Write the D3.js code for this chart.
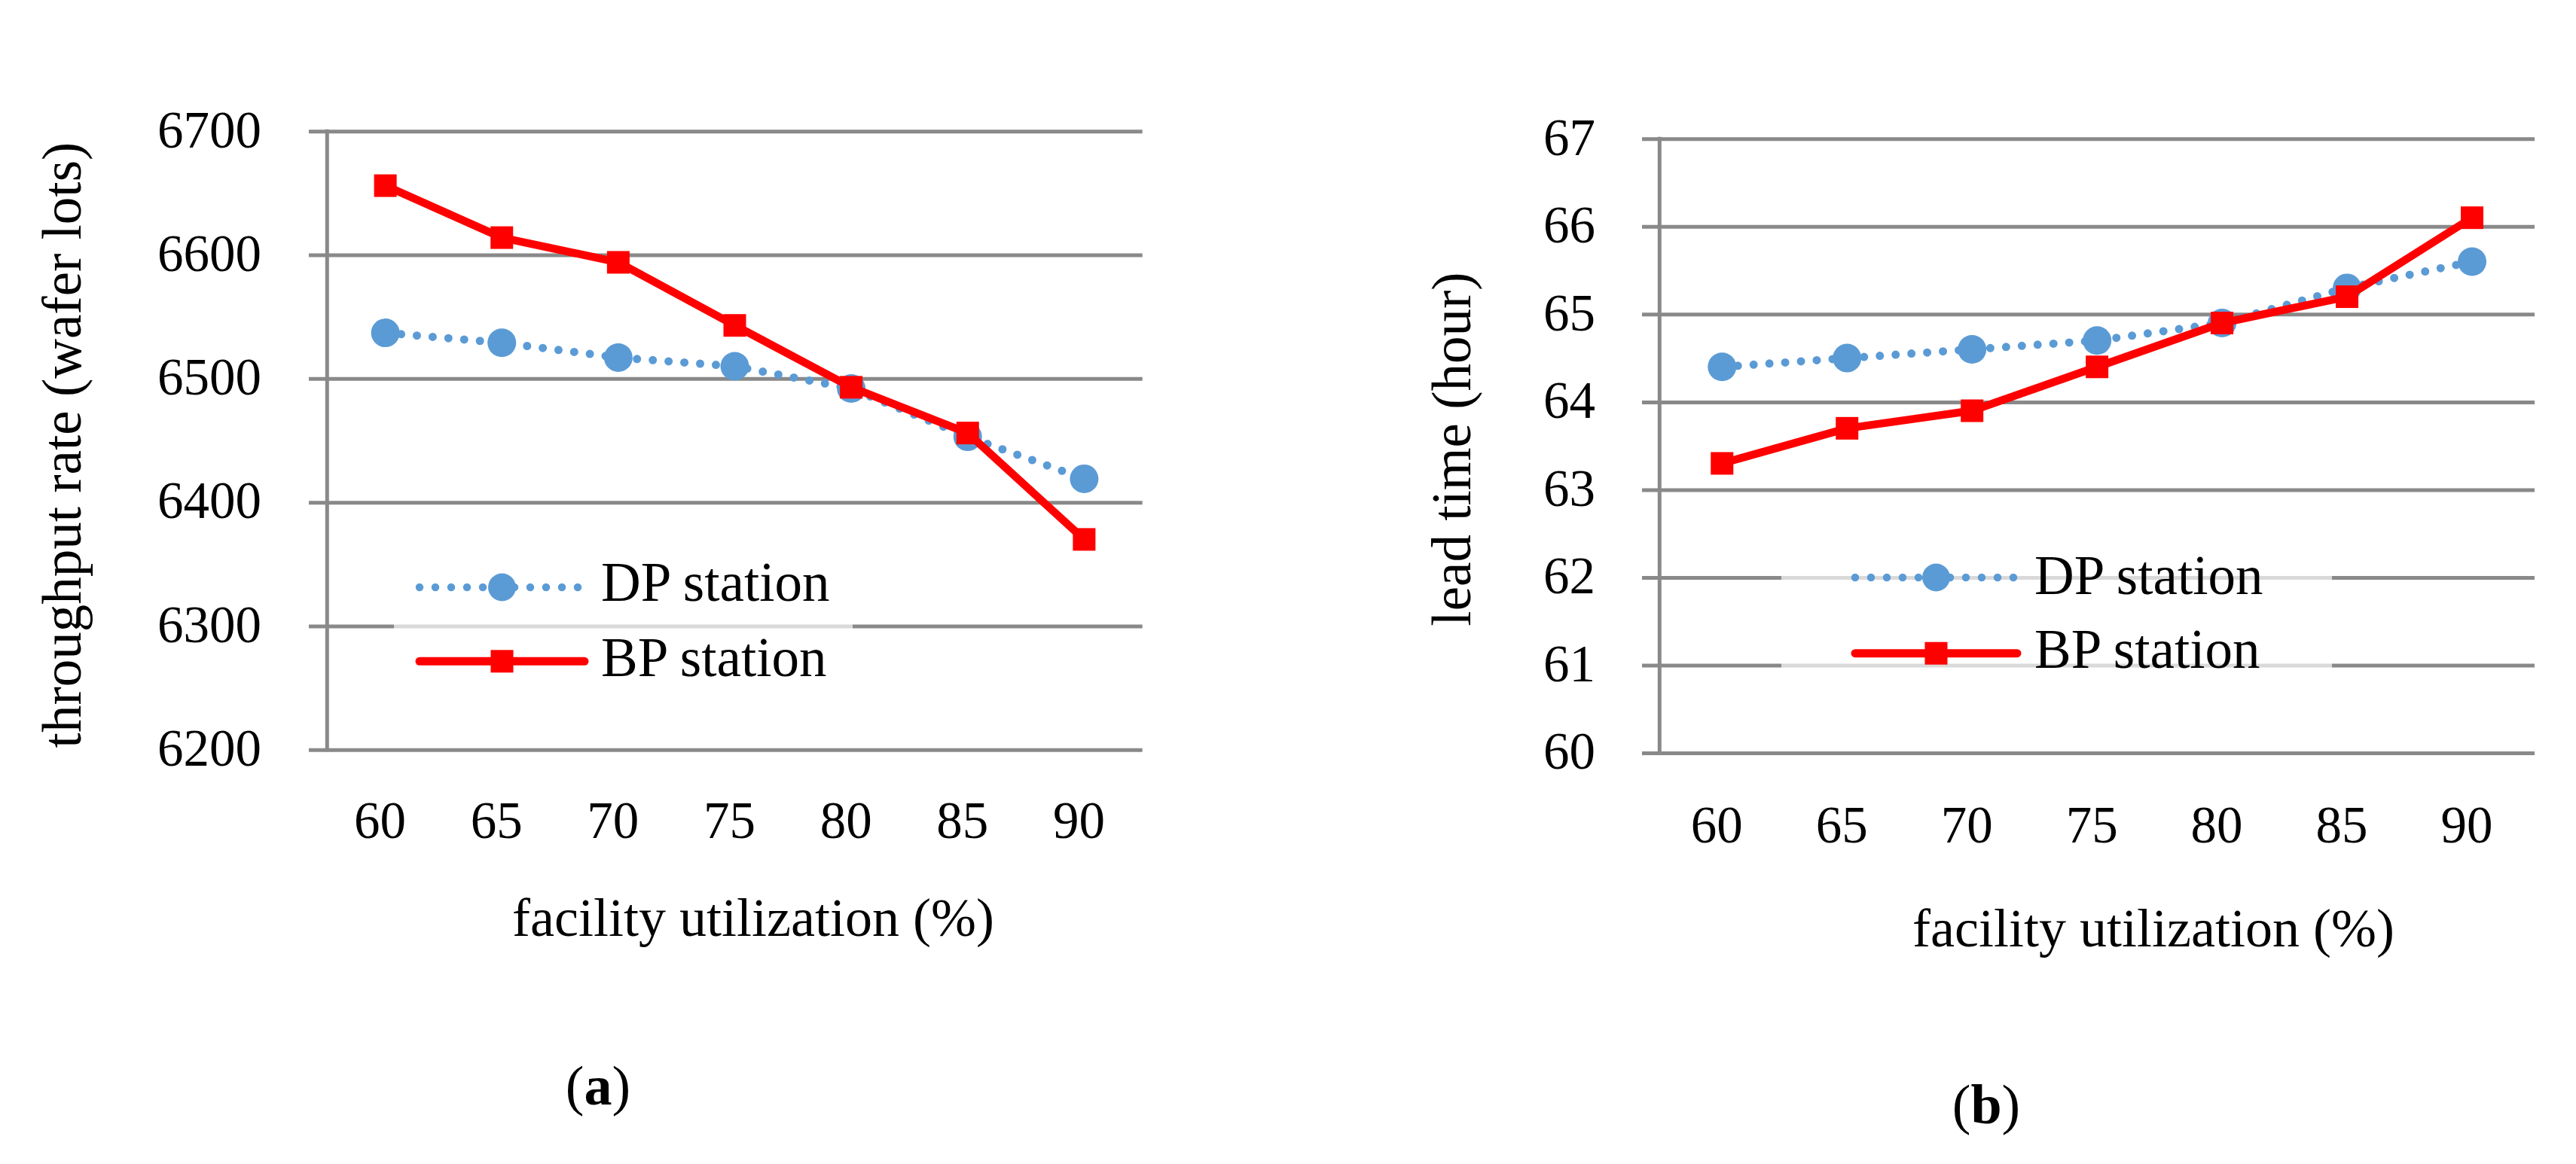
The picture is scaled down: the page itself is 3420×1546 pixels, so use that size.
<!DOCTYPE html>
<html>
<head>
<meta charset="utf-8">
<script src="https://cdn.jsdelivr.net/npm/d3@7/dist/d3.min.js"></script>
<style>
  html, body { margin: 0; padding: 0; background: #ffffff; }
  svg { display: block; }
  text { font-family: "Liberation Serif", "Times New Roman", serif; fill: #000; }
</style>
</head>
<body>
<svg id="chart" width="3420" height="1546"></svg>
<script>
// ---------------- data ----------------
const categories = [60, 65, 70, 75, 80, 85, 90];
const throughputDP = [6537, 6529, 6517, 6510, 6492, 6453, 6419];
const throughputBP = [6656, 6614, 6594, 6543, 6493, 6456, 6370];
const leadDP = [64.4, 64.5, 64.6, 64.7, 64.9, 65.3, 65.6];
const leadBP = [63.3, 63.7, 63.9, 64.4, 64.9, 65.2, 66.1];
const throughputTicks = [6200, 6300, 6400, 6500, 6600, 6700];
const leadTicks = [60, 61, 62, 63, 64, 65, 66, 67];
const seriesNames = ["DP station", "BP station"];
const xTitle = "facility utilization (%)";
const yTitles = ["throughput rate (wafer lots)", "lead time (hour)"];
const captions = ["a", "b"];

// ---------------- style ----------------
const GRID = "#898989";
const BLUE = "#5b9bd5";
const RED = "#ff0000";

const svg = d3.select("#chart");
svg.append("rect").attr("width", 3420).attr("height", 1546).attr("fill", "#fff");

const panels = [
  {
    dp: throughputDP, bp: throughputBP, ticks: throughputTicks, domain: [6200, 6700],
    left: 434.3, right: 1516.7, top: 174.3, bottom: 995.7, tickStart: 410, labelRight: 347,
    xLabelBase: 1113, xTitleX: 1000, xTitleY: 1243, yTitle: yTitles[0], yTitleX: 107, yTitleY: 591,
    caption: captions[0], capX: 794, capY: 1467,
    legBox: [523, 722, 609, 215], legLine: [557, 776], legY: [780, 878.3], legText: 798, legBase: [798.3, 898.3]
  },
  {
    dp: leadDP, bp: leadBP, ticks: leadTicks, domain: [60, 67],
    left: 2203.3, right: 3365, top: 184.3, bottom: 1000, tickStart: 2180, labelRight: 2118,
    xLabelBase: 1119, xTitleX: 2859, xTitleY: 1256.7, yTitle: yTitles[1], yTitleX: 1951.7, yTitleY: 596.5,
    caption: captions[1], capX: 2637, capY: 1491.7,
    legBox: [2365, 712, 731, 212], legLine: [2463, 2678], legY: [767, 867.7], legText: 2701, legBase: [789, 887.4]
  }
];

function drawPanel(p) {
  const g = svg.append("g");
  const x = d3.scaleBand().domain(categories).range([p.left, p.right]).paddingInner(0).paddingOuter(0);
  const y = d3.scaleLinear().domain(p.domain).range([p.bottom, p.top]);
  const cx = d => x(d) + x.bandwidth() / 2;

  // horizontal gridlines + y tick labels
  const yAxis = d3.axisLeft(y)
    .tickValues(p.ticks)
    .tickFormat(d3.format("d"))
    .tickSize(-(p.right - p.tickStart))
    .tickPadding(p.tickStart - p.labelRight);
  const ya = g.append("g").attr("transform", `translate(${p.tickStart},0)`).call(yAxis);
  ya.select(".domain").remove();
  ya.selectAll(".tick line").attr("stroke", GRID).attr("stroke-width", 5);
  ya.selectAll(".tick text")
    .attr("font-family", "Liberation Serif")
    .attr("font-size", 69)
    .attr("fill", "#000")
    .attr("dy", "0.3em");

  // vertical axis line
  g.append("line")
    .attr("x1", p.left).attr("x2", p.left)
    .attr("y1", y(p.domain[1]) - 2.5).attr("y2", y(p.domain[0]) + 2.5)
    .attr("stroke", GRID).attr("stroke-width", 5);

  // x tick labels
  const xAxis = d3.axisBottom(x).tickSize(0);
  const xa = g.append("g").attr("transform", `translate(0,${p.bottom})`).call(xAxis);
  xa.select(".domain").remove();
  xa.selectAll(".tick text")
    .attr("font-family", "Liberation Serif")
    .attr("font-size", 69)
    .attr("fill", "#000")
    .attr("y", p.xLabelBase - p.bottom)
    .attr("dy", 0)
    .attr("dx", -7);

  // legend box (semi-transparent white)
  g.append("rect")
    .attr("x", p.legBox[0]).attr("y", p.legBox[1])
    .attr("width", p.legBox[2]).attr("height", p.legBox[3])
    .attr("fill", "#fff").attr("fill-opacity", 0.68);

  // DP series: dotted line + circles
  const line = d3.line().x((d, i) => cx(categories[i])).y(d => y(d));
  g.append("path")
    .datum(p.dp)
    .attr("d", line)
    .attr("fill", "none")
    .attr("stroke", BLUE)
    .attr("stroke-width", 11)
    .attr("stroke-linecap", "round")
    .attr("stroke-dasharray", "0 21");
  g.selectAll(".dp").data(p.dp).enter().append("circle")
    .attr("cx", (d, i) => cx(categories[i]))
    .attr("cy", d => y(d))
    .attr("r", 19)
    .attr("fill", BLUE);

  // BP series: solid line + squares
  g.append("path")
    .datum(p.bp)
    .attr("d", line)
    .attr("fill", "none")
    .attr("stroke", RED)
    .attr("stroke-width", 10.5)
    .attr("stroke-linejoin", "round");
  g.selectAll(".bp").data(p.bp).enter().append("rect")
    .attr("x", (d, i) => cx(categories[i]) - 15)
    .attr("y", d => y(d) - 15)
    .attr("width", 30).attr("height", 30)
    .attr("fill", RED);

  // legend entries
  const lx0 = p.legLine[0], lx1 = p.legLine[1], lmid = (lx0 + lx1) / 2;
  g.append("line")
    .attr("x1", lx0).attr("x2", lx1).attr("y1", p.legY[0]).attr("y2", p.legY[0])
    .attr("stroke", BLUE).attr("stroke-width", 10.5)
    .attr("stroke-linecap", "round").attr("stroke-dasharray", "0 21");
  g.append("circle").attr("cx", lmid).attr("cy", p.legY[0]).attr("r", 18.5).attr("fill", BLUE);
  g.append("line")
    .attr("x1", lx0).attr("x2", lx1).attr("y1", p.legY[1]).attr("y2", p.legY[1])
    .attr("stroke", RED).attr("stroke-width", 11).attr("stroke-linecap", "round");
  g.append("rect").attr("x", lmid - 15).attr("y", p.legY[1] - 15).attr("width", 30).attr("height", 30).attr("fill", RED);
  seriesNames.forEach((name, i) => {
    g.append("text")
      .attr("x", p.legText).attr("y", p.legBase[i])
      .attr("font-size", 73)
      .text(name);
  });

  // axis titles
  g.append("text")
    .attr("x", p.xTitleX).attr("y", p.xTitleY)
    .attr("text-anchor", "middle")
    .attr("font-size", 72)
    .text(xTitle);
  g.append("text")
    .attr("transform", `translate(${p.yTitleX},${p.yTitleY}) rotate(-90)`)
    .attr("text-anchor", "middle")
    .attr("font-size", 73)
    .text(p.yTitle);

  // caption
  const cap = g.append("text")
    .attr("x", p.capX).attr("y", p.capY)
    .attr("text-anchor", "middle")
    .attr("font-size", 74);
  cap.append("tspan").text("(");
  cap.append("tspan").attr("font-weight", "bold").text(p.caption);
  cap.append("tspan").text(")");
}

panels.forEach(drawPanel);
</script>
</body>
</html>
